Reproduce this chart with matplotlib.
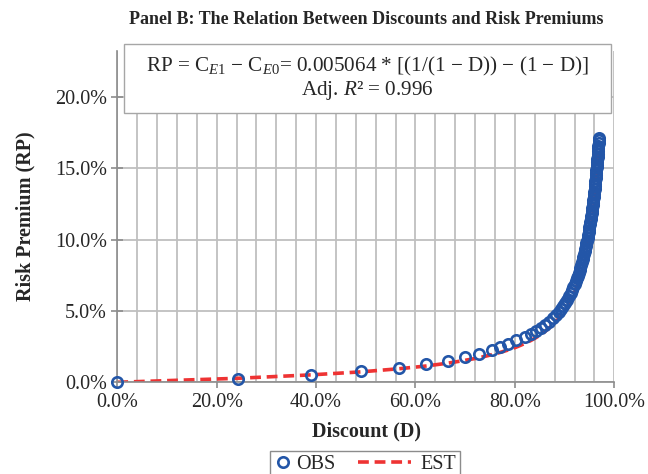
import numpy as np
import matplotlib
matplotlib.use('Agg')
import matplotlib.pyplot as plt
from matplotlib.lines import Line2D
from matplotlib.patches import Rectangle
from matplotlib.legend_handler import HandlerLine2D
from matplotlib.ticker import PercentFormatter

# discount D (fraction)
discount = [0.0000, 0.2420, 0.3900, 0.4900, 0.5670, 0.6210, 0.6650, 0.7000, 0.7280, 0.7530,
            0.7710, 0.7870, 0.8030, 0.8199, 0.8321, 0.8429, 0.8526, 0.8612, 0.8689, 0.8758,
            0.8822, 0.8880, 0.8929, 0.8973, 0.9014, 0.9052, 0.9087, 0.9119, 0.9150, 0.9178,
            0.9205, 0.9226, 0.9247, 0.9266, 0.9285, 0.9302, 0.9319, 0.9335, 0.9350, 0.9365,
            0.9379, 0.9392, 0.9405, 0.9417, 0.9429, 0.9440, 0.9451, 0.9462, 0.9472, 0.9482,
            0.9491, 0.9500, 0.9509, 0.9518, 0.9526, 0.9534, 0.9542, 0.9549, 0.9556, 0.9563,
            0.9570, 0.9577, 0.9583, 0.9590, 0.9596, 0.9602, 0.9608, 0.9613, 0.9619, 0.9624,
            0.9629, 0.9634, 0.9639, 0.9644, 0.9649, 0.9654, 0.9658, 0.9662, 0.9667, 0.9671,
            0.9675, 0.9679, 0.9683, 0.9687, 0.9690]

# observed risk premium (percent)
rp_obs = [0.00, 0.26, 0.49, 0.76, 0.99, 1.25, 1.50, 1.74, 1.99, 2.27,
          2.48, 2.71, 2.94, 3.16, 3.38, 3.60, 3.82, 4.04, 4.26, 4.48,
          4.70, 4.92, 5.14, 5.36, 5.58, 5.80, 6.02, 6.24, 6.46, 6.68,
          6.90, 7.09, 7.28, 7.47, 7.66, 7.85, 8.04, 8.23, 8.42, 8.61,
          8.80, 8.99, 9.18, 9.37, 9.56, 9.75, 9.94, 10.13, 10.32, 10.51,
          10.70, 10.89, 11.08, 11.27, 11.46, 11.65, 11.84, 12.03, 12.22, 12.41,
          12.60, 12.79, 12.98, 13.17, 13.36, 13.55, 13.74, 13.93, 14.12, 14.31,
          14.50, 14.69, 14.88, 15.07, 15.26, 15.45, 15.64, 15.83, 16.02, 16.21,
          16.40, 16.59, 16.78, 16.97, 17.16]

# estimated risk premium (fraction)
rp_est = [0.0000, 0.0028, 0.0052, 0.0073, 0.0095, 0.0114, 0.0134, 0.0154, 0.0172, 0.0193,
          0.0210, 0.0227, 0.0247, 0.0272, 0.0293, 0.0314, 0.0336, 0.0358, 0.0380, 0.0402,
          0.0424, 0.0446, 0.0468, 0.0488, 0.0509, 0.0529, 0.0550, 0.0570, 0.0591, 0.0612,
          0.0633, 0.0651, 0.0668, 0.0686, 0.0704, 0.0722, 0.0740, 0.0758, 0.0776, 0.0794,
          0.0812, 0.0830, 0.0848, 0.0866, 0.0884, 0.0902, 0.0920, 0.0938, 0.0957, 0.0975,
          0.0993, 0.1011, 0.1029, 0.1048, 0.1066, 0.1084, 0.1103, 0.1121, 0.1139, 0.1158,
          0.1176, 0.1195, 0.1213, 0.1232, 0.1251, 0.1269, 0.1288, 0.1307, 0.1326, 0.1345,
          0.1364, 0.1383, 0.1402, 0.1422, 0.1441, 0.1460, 0.1479, 0.1498, 0.1518, 0.1537,
          0.1556, 0.1576, 0.1595, 0.1615, 0.1634]

title = 'Panel B: The Relation Between Discounts and Risk Premiums'
eq_line = 'RP = C$_{\\mathit{E1}}$ \u2212 C$_{\\mathit{E0}}$= 0.005064 * [(1/(1 \u2212 D)) \u2212 (1 \u2212 D)]'
r2_line = 'Adj. $R$\u00b2 = 0.996'

plt.rcParams['font.family'] = ['Liberation Serif', 'DejaVu Serif']
plt.rcParams['mathtext.fontset'] = 'custom'
plt.rcParams['mathtext.rm'] = 'Liberation Serif'
plt.rcParams['mathtext.it'] = 'Liberation Serif:italic'
plt.rcParams['mathtext.bf'] = 'Liberation Serif:bold'

TXT = '#262626'
GRID = '#BFBFBF'
AXC = '#8C8C8C'


class LongDash(HandlerLine2D):
    # dashed handle that reaches back into the column gap
    def create_artists(self, legend, orig_handle, xdescent, ydescent,
                       width, height, fontsize, trans):
        y = height / 2 - ydescent
        line = Line2D([-xdescent - 2.2 * width, -xdescent + 0.75 * width], [y, y])
        self.update_prop(line, orig_handle, legend)
        line.set_transform(trans)
        return [line]


fig = plt.figure(figsize=(6.48, 4.74), dpi=100)
ax = fig.add_axes([0.181, 0.1935, 0.767, 0.699])

est, = ax.plot(discount, rp_est, color='#EE3333', lw=2.6, ls=(0, (3, 1.6)),
               label='EST', zorder=2)
obs, = ax.plot(discount, np.array(rp_obs) / 100, ls='none', marker='o', ms=7.5,
               mfc='none', mec='#2356A8', mew=1.9, label='OBS', zorder=3,
               clip_on=False)

ax.set_xlim(0, 1)
ax.set_ylim(0, 0.2323)
ax.set_xticks(np.arange(0, 1.0001, 0.2))
ax.set_xticks(np.arange(0, 1.0001, 0.04), minor=True)
ax.set_yticks(np.arange(0, 0.2001, 0.05))
ax.xaxis.set_major_formatter(PercentFormatter(1.0, decimals=1))
ax.yaxis.set_major_formatter(PercentFormatter(1.0, decimals=1))
ax.grid(True, which='both', axis='x', color=GRID, lw=1.3)
ax.grid(True, which='major', axis='y', color=GRID, lw=1.3)
ax.set_axisbelow(True)
ax.spines[['top', 'right']].set_visible(False)
for s in ('left', 'bottom'):
    ax.spines[s].set_color(AXC)
    ax.spines[s].set_linewidth(1.2)
ax.tick_params(axis='x', which='major', direction='out', length=4, width=1.2,
               color=AXC, labelsize=14.5, labelcolor=TXT, pad=4)
ax.tick_params(axis='x', which='minor', length=0)
ax.tick_params(axis='y', direction='inout', length=9, width=1.2, color=AXC,
               labelsize=14.5, labelcolor=TXT, pad=3)

ax.set_xlabel('Discount (D)', fontsize=14.5, fontweight='bold', color=TXT, va='center')
ax.xaxis.set_label_coords(0.502, -0.150)
ax.set_ylabel('Risk Premium (RP)', fontsize=14.5, fontweight='bold', color=TXT, va='center')
ax.yaxis.set_label_coords(-0.185, 0.5)

fig.text(0.565, 1 - 20 / 474, title, ha='center', va='center',
         fontsize=13, fontweight='bold', color=TXT)

# equation box
fig.patches.append(Rectangle((124 / 648, 1 - 113 / 474), (611 - 124) / 648, (113 - 44) / 474,
                             transform=fig.transFigure, facecolor='white',
                             edgecolor='#A6A6A6', lw=1.0, zorder=5))
fig.text(367 / 648, 1 - 66 / 474, eq_line, ha='center', va='center',
         fontsize=15.2, color=TXT, zorder=6)
fig.text(367 / 648, 1 - 91 / 474, r2_line, ha='center', va='center',
         fontsize=15.2, color=TXT, zorder=6)

leg = fig.legend([obs, est], ['OBS', 'EST'], loc='upper left',
                 bbox_to_anchor=(270 / 648, 1 - 451 / 474), ncol=2,
                 fontsize=14.5, frameon=True, fancybox=False, edgecolor=AXC,
                 framealpha=1, borderpad=0.2, borderaxespad=0, handlelength=0.9,
                 handletextpad=0.2, columnspacing=3.1,
                 handler_map={est: LongDash()})
leg.get_frame().set_linewidth(1.0)
for t in leg.get_texts():
    t.set_color(TXT)

fig.savefig('out.png', dpi=100)
